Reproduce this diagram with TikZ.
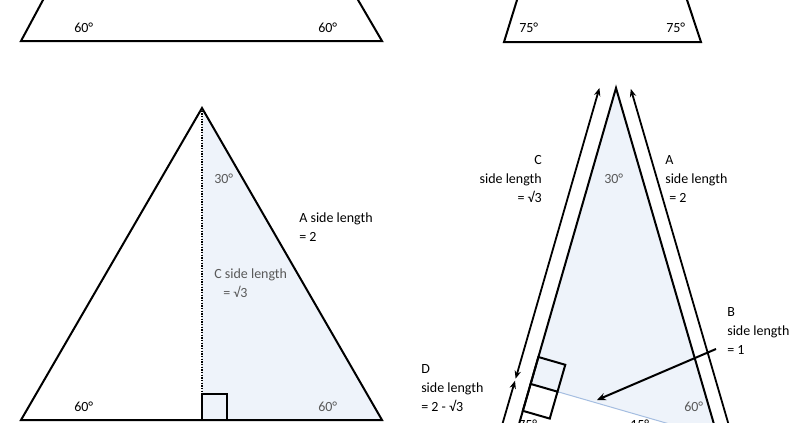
\documentclass[tikz,border=0pt]{standalone}
\usepackage{fontspec}
\setmainfont{Carlito}
\usetikzlibrary{arrows.meta,calc}
\definecolor{tgShade}{RGB}{238,243,250}
\definecolor{tgGray}{RGB}{89,89,89}
\definecolor{tgBlue}{RGB}{165,190,225}
\tikzset{
  edge/.style={line width=1.5pt, line join=miter},
  lenarrow/.style={line width=1.35pt, {Stealth[length=6pt,width=4.8pt]}-{Stealth[length=6pt,width=4.8pt]}},
  lbl/.style={font=\fontsize{10.5}{14.25}\selectfont, inner sep=0pt},
  lblgray/.style={lbl, text=tgGray},
}
\begin{document}
\begin{tikzpicture}[x=0.75pt, y=-0.75pt]
  \useasboundingbox (0,0) rectangle (805,422);
  \fill[white] (0,0) rectangle (805,422);
  \clip (0,0) rectangle (805,422);

  % Top trapezoids (cut by the frame)
  \draw[edge] (48.4,-10) -- (21,41) -- (382,41) -- (352.2,-10);
  \node[lbl, anchor=base west] (tl60a) at (74,32) {60°};
  \node[lbl, anchor=base west] (tl60b) at (318,32) {60°};
  \draw[edge] (520.1,-10) -- (504,42) -- (701,42) -- (683.7,-10);
  \node[lbl, anchor=base west] (tr75a) at (519,32) {75°};
  \node[lbl, anchor=base west] (tr75b) at (666,32) {75°};

  % Equilateral triangle, split in half
  \coordinate (eqT) at (202,108);
  \coordinate (eqL) at (21,420);
  \coordinate (eqR) at (382,420);
  \coordinate (eqM) at (202,420);
  \fill[tgShade] (eqT) -- (eqM) -- (eqR) -- cycle;
  \draw[line width=1.1pt, dash pattern=on 1pt off 1pt] (eqT) -- (eqM);
  \draw[edge] (eqM) rectangle ++(25,-26);
  \draw[edge] (eqL) -- (eqT) -- (eqR) -- cycle;
  \node[lblgray, anchor=base west] (eq30) at (214,183) {30°};
  \node[lbl, anchor=north west, align=left] (eqA) at (299,208.7) {\strut A side length\\= 2};
  \node[lblgray, anchor=north west, align=left] (eqC) at (214,264.7) {\strut C side length\\\hspace{6.75pt}= √3};
  \node[lbl, anchor=base west] (eq60a) at (74,411) {60°};
  \node[lblgray, anchor=base west] (eq60b) at (318,411) {60°};

  % Isosceles triangle with the altitude B
  \coordinate (P) at (616,88);
  \coordinate (L) at (515,438);
  \coordinate (R) at (718,438);
  \coordinate (F) at ($(P)!(R)!(L)$);
  \coordinate (Fu) at ($(F)!21pt!(P)$);
  \coordinate (Fd) at ($(F)!21pt!(L)$);
  \coordinate (Fw) at ($(F)!21pt!(R)$);
  \fill[tgShade] (P) -- (F) -- (R) -- cycle;
  \draw[tgBlue, line width=0.75pt] (F) -- (R);
  \draw[edge] (F) -- (Fu) -- ($(Fu)+(Fw)-(F)$) -- (Fw) -- cycle;
  \draw[edge] (F) -- (Fd) -- ($(Fd)+(Fw)-(F)$) -- (Fw);
  \draw[edge] (P) -- (L) -- (R) -- cycle;

  % Side length arrows
  \coordinate (Ct) at (599.4,88);
  \coordinate (Cb) at (515.6,378.7);
  \coordinate (Dt) at (515.0,380.7);
  \coordinate (Db) at (499.6,433.6);
  \coordinate (At) at (630.8,88.9);
  \coordinate (Ab) at (731.4,434.1);
  \draw[lenarrow] (Ct) -- (Cb);
  \draw[lenarrow] (Dt) -- (Db);
  \draw[lenarrow] (At) -- (Ab);
  \coordinate (Bs) at (716,349);
  \coordinate (Bt) at (597,400);
  \draw[line width=1.5pt, -{Stealth[length=6.5pt,width=5.5pt]}] (Bs) -- (Bt);

  % Labels
  \node[lbl, anchor=north east, align=right] (isoC) at (542,150.7) {\strut C\\side length\\= √3};
  \node[lblgray, anchor=base west] (iso30) at (604,183) {30°};
  \node[lbl, anchor=north west, align=left] (isoA) at (665,150.7) {\strut A\\side length\\\hspace{3pt}= 2};
  \node[lbl, anchor=north west, align=left] (isoB) at (727,302.7) {\strut B\\side length\\= 1};
  \node[lbl, anchor=north west, align=left] (isoD) at (421,359.7) {\strut D\\side length\\= 2 - √3};
  \node[lblgray, anchor=base west] (iso60) at (684,411) {60°};
  \node[lbl, anchor=base west] (iso75) at (518,429) {75°};
  \node[lbl, anchor=base west] (iso15) at (630,429) {15°};
\end{tikzpicture}
\end{document}
